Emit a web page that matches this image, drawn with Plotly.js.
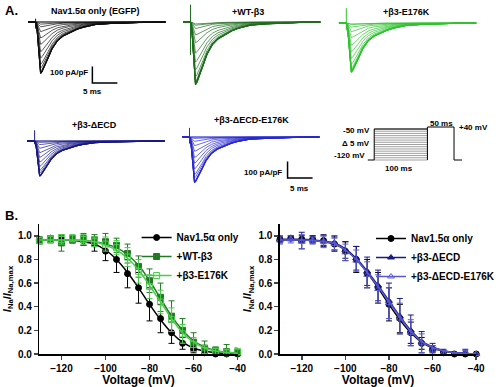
<!DOCTYPE html>
<html><head><meta charset="utf-8">
<script src="https://cdn.plot.ly/plotly-3.0.1.min.js"></script>
<style>html,body{margin:0;padding:0;background:#fff}#chart{width:500px;height:387px}</style>
</head><body><div id="chart"></div>
<script>
// ---------- Panel B data (steady-state inactivation) ----------
const voltages = [-130,-125,-120,-115,-110,-105,-100,-95,-90,-85,-80,-75,-70,-65,-60,-55,-50,-45,-40];
const navMean = [0.97,0.98,0.97,0.97,0.96,0.93,0.87,0.80,0.68,0.56,0.42,0.30,0.18,0.09,0.04,0.01,0.00,0.00,0.00];
const navErr  = [0.02,0.02,0.03,0.03,0.04,0.06,0.08,0.11,0.12,0.13,0.14,0.12,0.09,0.05,0.03,0.01,0.00,0.00,0.00];
const navFit  = [0.965,0.965,0.965,0.96,0.95,0.93,0.88,0.80,0.69,0.56,0.42,0.29,0.18,0.10,0.05,0.025,0.01,0.005,0.002];
const wtMean  = [0.96,0.97,0.94,0.97,0.97,0.96,0.95,0.92,0.85,0.74,0.62,0.48,0.32,0.20,0.10,0.05,0.03,0.02,0.01];
const wtErr   = [0.03,0.03,0.07,0.03,0.05,0.05,0.07,0.06,0.08,0.09,0.10,0.12,0.13,0.10,0.08,0.06,0.03,0.06,0.04];
const wtFit   = [0.965,0.965,0.965,0.965,0.96,0.95,0.93,0.90,0.84,0.75,0.62,0.47,0.32,0.20,0.11,0.06,0.03,0.015,0.01];
const e176kMean = [0.96,0.97,0.97,0.98,0.97,0.95,0.93,0.90,0.82,0.70,0.57,0.44,0.29,0.17,0.08,0.03,0.02,0.01,0.02];
const e176kErr  = [0.03,0.03,0.04,0.03,0.04,0.04,0.06,0.06,0.08,0.10,0.10,0.10,0.10,0.08,0.06,0.04,0.03,0.03,0.03];
const e176kFit  = [0.965,0.965,0.965,0.965,0.96,0.95,0.92,0.88,0.81,0.71,0.58,0.44,0.30,0.18,0.10,0.05,0.025,0.012,0.006];
const decdMean = [0.97,0.98,0.96,0.97,0.96,0.94,0.88,0.81,0.70,0.58,0.45,0.32,0.20,0.10,0.04,0.01,0.00,0.01,0.00];
const decdErr  = [0.03,0.02,0.07,0.03,0.05,0.06,0.07,0.10,0.12,0.13,0.15,0.15,0.13,0.09,0.05,0.03,0.01,0.03,0.01];
const decdFit  = [0.97,0.97,0.97,0.965,0.955,0.94,0.89,0.81,0.70,0.58,0.45,0.32,0.20,0.11,0.06,0.03,0.01,0.005,0.002];
const decdE176kMean = [0.96,0.97,0.95,0.96,0.95,0.93,0.86,0.79,0.67,0.55,0.43,0.30,0.18,0.09,0.03,0.01,0.00,0.01,0.00];
const decdE176kErr  = [0.03,0.03,0.06,0.03,0.05,0.05,0.07,0.09,0.11,0.12,0.13,0.13,0.11,0.08,0.04,0.02,0.01,0.02,0.01];
const decdE176kFit  = [0.965,0.965,0.965,0.96,0.95,0.935,0.88,0.80,0.69,0.57,0.44,0.31,0.19,0.105,0.055,0.027,0.01,0.005,0.002];

// ---------- Panel A data (current traces) ----------
const sweepVoltages = [-120,-115,-110,-105,-100,-95,-90,-85,-80,-75,-70,-65,-60,-55,-50];
const traceTime  = [-1.5,0,0.3,0.55,0.8,1.0,1.3,1.8,2.5,3.3,4.4,5.5,6.9,8.3,9.6,12,15,18.5,22,26];
const traceShape = [0,0,0.15,0.5,0.88,1.0,0.96,0.86,0.70,0.52,0.36,0.27,0.20,0.14,0.10,0.05,0.03,0.015,0.006,0];
const panelNames = ['Nav1.5α only (EGFP)','+WT-β3','+β3-E176K','+β3-ΔECD','+β3-ΔECD-E176K'];
const panelPeak  = [312, 380, 300, 214, 277];   // pA/pF, largest sweep
const panelSpikeUp   = [20, 105, 90, 65, 55];
const panelSpikeDown = [-40, -200, -45, -20, -40];
const scaleBarCurrent = 100; // pA/pF
const scaleBarTime = 5;      // ms

// ---------- Protocol ----------
const protoLevels = [-120,-115,-110,-105,-100,-95,-90,-85,-80,-75,-70,-65,-60,-55,-50];
const protoCondDur = 100, protoTestDur = 50, protoTail = 15, protoPre = 12;
const protoHold = -120, protoTestDrawn = -45.5;

// ---------- layout helpers ----------
const W = 500, H = 387;
const dxp = (a,b) => [a/W, b/W];
const dyp = (top,bottom) => [1-bottom/H, 1-top/H];
const FONT = 'Liberation Sans, Arial, sans-serif';

const panelCfg = [
  {onset:37,  base:22,  color:'#111111'},
  {onset:198, base:22,  color:'#1f6e1f'},
  {onset:360, base:23,  color:'#2fc42f'},
  {onset:36,  base:141, color:'#1a1a86'},
  {onset:197, base:137, color:'#2a2ad0'}
];
const availSets = [navMean, wtMean, e176kMean, decdMean, decdE176kMean];
const PXMS = 5.2, PXI = 0.165;
const tRange = [-1.5, 26], iRange = [-450, 130];

const traces = [];
const layout = {
  width: W, height: H, margin:{l:0,r:0,t:0,b:0},
  paper_bgcolor:'#fff', plot_bgcolor:'rgba(0,0,0,0)',
  showlegend:true, annotations:[], font:{family:FONT}
};

panelCfg.forEach((p, k) => {
  const n = k + 3;
  const xa = 'xaxis'+n, ya = 'yaxis'+n;
  layout[xa] = {domain: dxp(p.onset + tRange[0]*PXMS, p.onset + tRange[1]*PXMS), range:tRange, visible:false, fixedrange:true, anchor:'y'+n};
  layout[ya] = {domain: dyp(p.base - iRange[1]*PXI, p.base - iRange[0]*PXI), range:iRange, visible:false, fixedrange:true, anchor:'x'+n};
  const avail = availSets[k];
  const offset = voltages.indexOf(sweepVoltages[0]);
  const ref = Math.max(...avail.slice(offset, offset + sweepVoltages.length));
  sweepVoltages.forEach((v, i) => {
    const a = avail[offset + i] / ref;
    const pk = panelPeak[k] * a;
    traces.push({
      x: traceTime, y: traceShape.map(s => -pk*s), xaxis:'x'+n, yaxis:'y'+n,
      mode:'lines', line:{color:p.color, width: i < 3 ? 1.1 : 0.7}, showlegend:false, hoverinfo:'skip'
    });
  });
  traces.push({x:[0,0], y:[panelSpikeUp[k], panelSpikeDown[k]], xaxis:'x'+n, yaxis:'y'+n,
    mode:'lines', line:{color:p.color, width:1}, showlegend:false, hoverinfo:'skip'});
});

// scale bars (panel 1 and panel 5)
traces.push({x:[11.35,11.35,11.35+scaleBarTime], y:[-270,-270-scaleBarCurrent,-270-scaleBarCurrent],
  xaxis:'x3', yaxis:'y3', mode:'lines', line:{color:'#000',width:1.5}, showlegend:false});
traces.push({x:[19.6,19.6,19.6+scaleBarTime], y:[-148,-148-scaleBarCurrent,-148-scaleBarCurrent],
  xaxis:'x7', yaxis:'y7', mode:'lines', line:{color:'#000',width:1.5}, showlegend:false});

// protocol axis
const PPX = 0.553, PPY = 31/70;
layout.xaxis8 = {domain: dxp(389 - 20*PPX, 389 + 180*PPX), range:[-20,180], visible:false, fixedrange:true, anchor:'y8'};
layout.yaxis8 = {domain: dyp(129 - 10*PPY, 160 + 10*PPY), range:[-130,-40], visible:false, fixedrange:true, anchor:'x8'};
{
  const gx = [], gy = [];
  protoLevels.forEach(l => { gx.push(0, protoCondDur, null); gy.push(l, l, null); });
  traces.push({x:gx, y:gy, xaxis:'x8', yaxis:'y8', mode:'lines', line:{color:'#888',width:0.8}, showlegend:false});
  const top = protoLevels[protoLevels.length-1];
  traces.push({x:[0,0,null,protoCondDur,protoCondDur,null,0,protoCondDur,protoCondDur,protoCondDur+protoTestDur,protoCondDur+protoTestDur,protoCondDur+protoTestDur+protoTail,null,-protoPre,0],
    y:[protoHold,top,null,protoHold,top,null,top,top,protoTestDrawn,protoTestDrawn,protoHold,protoHold,null,protoHold,protoHold],
    xaxis:'x8', yaxis:'y8', mode:'lines', line:{color:'#000',width:1}, showlegend:false});
}

// ---------- Panel B axes ----------
const tickFont = {family:FONT, size:10, color:'#000', weight:'bold'};
const titleFont = {family:FONT, size:12, color:'#000', weight:'bold'};
function xAx(dom){ return {domain:dom, range:[-130,-40], tickvals:[-120,-100,-80,-60,-40], ticks:'outside', ticklen:4, tickwidth:1.5,
  showline:true, linewidth:1.5, linecolor:'#000', showgrid:false, zeroline:false, tickfont:tickFont,
  title:{text:'Voltage (mV)', font:titleFont, standoff:3}, fixedrange:true}; }
function yAx(dom){ return {domain:dom, range:[0,1.1], tickvals:[0,0.2,0.4,0.6,0.8,1.0], tickformat:'.1f', ticks:'outside', ticklen:4, tickwidth:1.5,
  showline:true, linewidth:1.5, linecolor:'#000', showgrid:false, zeroline:false, tickfont:tickFont,
  title:{text:'<i>I</i><sub>Na</sub>/<i>I</i><sub>Na,max</sub>', font:{family:FONT,size:11,color:'#000',weight:'bold'}, standoff:4}, fixedrange:true}; }
layout.xaxis = Object.assign(xAx(dxp(41,247)), {anchor:'y'});
layout.yaxis = Object.assign(yAx(dyp(224,354)), {anchor:'x'});
layout.xaxis2 = Object.assign(xAx(dxp(291,495)), {anchor:'y2'});
layout.yaxis2 = Object.assign(yAx(dyp(224,354)), {anchor:'x2'});

function series(ax, name, mean, err, fit, color, symbol, msize, legend){
  const xa = ax===1?'x':'x2', ya = ax===1?'y':'y2';
  traces.push({x:voltages, y:fit, xaxis:xa, yaxis:ya, mode:'lines', line:{color:color,width:1.5,shape:'spline'}, showlegend:false, hoverinfo:'skip', cliponaxis:false});
  traces.push({x:voltages, y:mean, xaxis:xa, yaxis:ya, mode:'markers', cliponaxis:false, showlegend:false,
    marker:{color:color, symbol:symbol, size:msize, line:{color:color,width:1}},
    error_y:{type:'data', array:err, visible:true, color:color, thickness:1, width:3}});
  traces.push({x:[null], y:[null], xaxis:xa, yaxis:ya, mode:'lines+markers', name:name, legend:legend,
    line:{color:color,width:1.5}, marker:{color:color, symbol:symbol, size:msize, line:{color:color,width:1}}});
}
series(1,'Nav1.5α only', navMean, navErr, navFit, '#000', 'circle', 6, 'legend');
series(1,'+WT-β3', wtMean, wtErr, wtFit, '#237a23', 'square', 6, 'legend');
series(1,'+β3-E176K', e176kMean, e176kErr, e176kFit, '#4ccc4c', 'square-open', 6, 'legend');
series(2,'Nav1.5α only', navMean, navErr, navFit, '#000', 'circle', 6, 'legend2');
series(2,'+β3-ΔECD', decdMean, decdErr, decdFit, '#1a1a80', 'triangle-up', 6, 'legend2');
series(2,'+β3-ΔECD-E176K', decdE176kMean, decdE176kErr, decdE176kFit, '#5a5ad0', 'triangle-up-open', 6, 'legend2');

const legFont = {family:FONT, size:10, color:'#000', weight:'bold'};
layout.legend  = {x:142/W, y:1-223/H, xanchor:'left', yanchor:'top', bgcolor:'rgba(0,0,0,0)', font:legFont, itemwidth:30, tracegroupgap:0};
layout.legend2 = {x:386/W, y:1-224/H, xanchor:'left', yanchor:'top', bgcolor:'rgba(0,0,0,0)', font:legFont, itemwidth:30, tracegroupgap:0};

// ---------- annotations ----------
function ann(text, px, py, size, anchor, bold){
  layout.annotations.push({text:text, xref:'paper', yref:'paper', x:px/W, y:1-py/H, xanchor:anchor||'center', yanchor:'middle',
    showarrow:false, font:{family:FONT, size:size, color:'#000', weight: bold===false?'normal':'bold'}});
}
ann('A.', 3, 10, 13, 'left');
ann('B.', 3, 215, 13, 'left');
const titlePos = [[99,11],[258,12],[423,12],[98,125],[261,120]];
panelNames.forEach((t,i) => ann(t, titlePos[i][0], titlePos[i][1], 9));
ann(scaleBarCurrent+' pA/pF', 72, 73, 8);
ann(scaleBarTime+' ms', 96, 91, 8);
ann(scaleBarCurrent+' pA/pF', 273, 172, 8);
ann(scaleBarTime+' ms', 311, 188, 8);
ann('-50 mV', 387, 130, 8, 'right');
ann('Δ 5 mV', 387, 143, 8, 'right');
ann('-120 mV', 382, 155, 8, 'right');
ann('100 ms', 415, 169, 8);
ann('50 ms', 459, 124, 8);
ann('+40 mV', 475, 127, 8, 'left');

Plotly.newPlot('chart', traces, layout, {staticPlot:true, displayModeBar:false});
</script></body></html>
